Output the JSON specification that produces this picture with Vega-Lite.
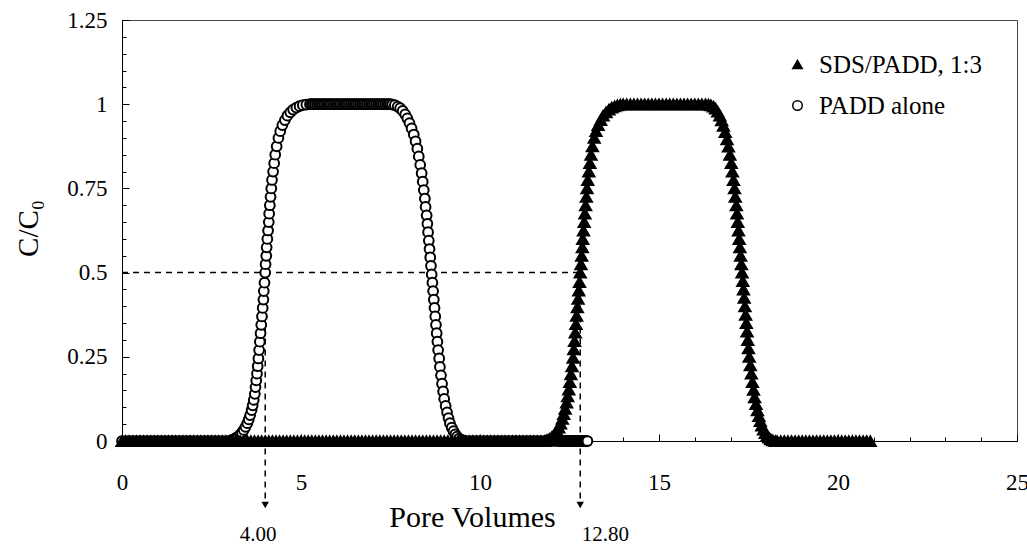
{
"$schema":"https://vega.github.io/schema/vega-lite/v6.json",
"width":895,"height":421,
"autosize":{"type":"none"},
"padding":{"left":122,"top":20,"right":10,"bottom":107},
"background":"white",
"datasets":{
"guides":[{"x":0,"y":0.5,"x2":12.8,"y2":0.5},{"x":4,"y":0.5,"x2":4,"y2":-0.185},{"x":12.8,"y":0.5,"x2":12.8,"y2":-0.185}],
"arrows":[{"x":4,"y":-0.19},{"x":12.8,"y":-0.19}],
"labels":[{"x":3.8,"y":-0.28,"t":"4.00"},{"x":13.5,"y":-0.28,"t":"12.80"}],
"padd":[
{"x":0,"y":0},{"x":0.1,"y":0},{"x":0.2,"y":0},{"x":0.3,"y":0},{"x":0.4,"y":0},{"x":0.5,"y":0},{"x":0.6,"y":0},{"x":0.7,"y":0},{"x":0.8,"y":0},{"x":0.9,"y":0},
{"x":1,"y":0},{"x":1.1,"y":0},{"x":1.2,"y":0},{"x":1.3,"y":0},{"x":1.4,"y":0},{"x":1.5,"y":0},{"x":1.6,"y":0},{"x":1.7,"y":0},{"x":1.8,"y":0},{"x":1.9,"y":0},
{"x":2,"y":0},{"x":2.1,"y":0},{"x":2.2,"y":0},{"x":2.3,"y":0},{"x":2.4,"y":0},{"x":2.5,"y":0},{"x":2.6,"y":0},{"x":2.7,"y":0},{"x":2.8,"y":0},{"x":2.9,"y":0},
{"x":3.0,"y":0},{"x":3.05,"y":0.002},{"x":3.1,"y":0.004},{"x":3.15,"y":0.007},{"x":3.2,"y":0.01},{"x":3.25,"y":0.014},{"x":3.3,"y":0.019},{"x":3.35,"y":0.025},{"x":3.4,"y":0.033},{"x":3.45,"y":0.042},
{"x":3.5,"y":0.053},{"x":3.54,"y":0.064},{"x":3.58,"y":0.077},{"x":3.62,"y":0.092},{"x":3.65,"y":0.106},{"x":3.68,"y":0.122},{"x":3.71,"y":0.14},{"x":3.73,"y":0.16},{"x":3.75,"y":0.18},{"x":3.77,"y":0.2},
{"x":3.79,"y":0.222},{"x":3.81,"y":0.245},{"x":3.83,"y":0.27},{"x":3.85,"y":0.295},{"x":3.87,"y":0.32},{"x":3.89,"y":0.345},{"x":3.91,"y":0.37},{"x":3.93,"y":0.395},{"x":3.95,"y":0.42},{"x":3.96,"y":0.445},
{"x":3.98,"y":0.47},{"x":4.0,"y":0.5},{"x":4.01,"y":0.525},{"x":4.03,"y":0.55},{"x":4.04,"y":0.575},{"x":4.06,"y":0.6},{"x":4.08,"y":0.625},{"x":4.1,"y":0.65},{"x":4.11,"y":0.675},{"x":4.13,"y":0.7},
{"x":4.15,"y":0.725},{"x":4.17,"y":0.75},{"x":4.19,"y":0.775},{"x":4.22,"y":0.8},{"x":4.25,"y":0.825},{"x":4.28,"y":0.85},{"x":4.32,"y":0.875},{"x":4.37,"y":0.9},{"x":4.42,"y":0.92},{"x":4.48,"y":0.938},
{"x":4.55,"y":0.953},{"x":4.62,"y":0.966},{"x":4.7,"y":0.976},{"x":4.78,"y":0.984},{"x":4.87,"y":0.99},{"x":4.96,"y":0.994},{"x":5.05,"y":0.997},{"x":5.15,"y":0.999},{"x":5.25,"y":1},
{"x":5.3,"y":1},{"x":5.35,"y":1},{"x":5.4,"y":1},{"x":5.45,"y":1},{"x":5.5,"y":1},{"x":5.55,"y":1},{"x":5.6,"y":1},{"x":5.65,"y":1},{"x":5.7,"y":1},{"x":5.75,"y":1},
{"x":5.8,"y":1},{"x":5.85,"y":1},{"x":5.9,"y":1},{"x":5.95,"y":1},{"x":6,"y":1},{"x":6.05,"y":1},{"x":6.1,"y":1},{"x":6.15,"y":1},{"x":6.2,"y":1},{"x":6.25,"y":1},
{"x":6.3,"y":1},{"x":6.35,"y":1},{"x":6.4,"y":1},{"x":6.45,"y":1},{"x":6.5,"y":1},{"x":6.55,"y":1},{"x":6.6,"y":1},{"x":6.65,"y":1},{"x":6.7,"y":1},{"x":6.75,"y":1},
{"x":6.8,"y":1},{"x":6.85,"y":1},{"x":6.9,"y":1},{"x":6.95,"y":1},{"x":7,"y":1},{"x":7.05,"y":1},{"x":7.1,"y":1},{"x":7.15,"y":1},{"x":7.2,"y":1},{"x":7.25,"y":1},
{"x":7.3,"y":1},{"x":7.35,"y":1},{"x":7.4,"y":1},{"x":7.45,"y":1},{"x":7.5,"y":1},
{"x":7.55,"y":0.999},{"x":7.62,"y":0.997},{"x":7.7,"y":0.993},{"x":7.77,"y":0.988},{"x":7.84,"y":0.98},{"x":7.91,"y":0.97},{"x":7.97,"y":0.958},{"x":8.03,"y":0.944},{"x":8.09,"y":0.928},{"x":8.15,"y":0.91},
{"x":8.2,"y":0.89},{"x":8.25,"y":0.868},{"x":8.29,"y":0.845},{"x":8.33,"y":0.82},{"x":8.37,"y":0.795},{"x":8.4,"y":0.77},{"x":8.43,"y":0.745},{"x":8.46,"y":0.72},{"x":8.48,"y":0.695},{"x":8.51,"y":0.67},
{"x":8.53,"y":0.645},{"x":8.55,"y":0.62},{"x":8.57,"y":0.595},{"x":8.59,"y":0.57},{"x":8.61,"y":0.545},{"x":8.63,"y":0.52},{"x":8.65,"y":0.495},{"x":8.67,"y":0.47},{"x":8.69,"y":0.445},{"x":8.71,"y":0.42},
{"x":8.73,"y":0.395},{"x":8.75,"y":0.37},{"x":8.77,"y":0.345},{"x":8.79,"y":0.32},{"x":8.81,"y":0.295},{"x":8.83,"y":0.27},{"x":8.86,"y":0.245},{"x":8.88,"y":0.22},{"x":8.91,"y":0.195},{"x":8.94,"y":0.17},
{"x":8.97,"y":0.147},{"x":9.0,"y":0.125},{"x":9.04,"y":0.104},{"x":9.08,"y":0.085},{"x":9.12,"y":0.068},{"x":9.16,"y":0.053},{"x":9.21,"y":0.04},{"x":9.26,"y":0.029},{"x":9.31,"y":0.02},{"x":9.36,"y":0.013},
{"x":9.42,"y":0.007},{"x":9.48,"y":0.003},{"x":9.55,"y":0.001},{"x":9.6,"y":0},
{"x":9.7,"y":0},{"x":9.8,"y":0},{"x":9.9,"y":0},{"x":10,"y":0},{"x":10.1,"y":0},{"x":10.2,"y":0},{"x":10.3,"y":0},{"x":10.4,"y":0},{"x":10.5,"y":0},{"x":10.6,"y":0},
{"x":10.7,"y":0},{"x":10.8,"y":0},{"x":10.9,"y":0},{"x":11,"y":0},{"x":11.1,"y":0},{"x":11.2,"y":0},{"x":11.3,"y":0},{"x":11.4,"y":0},{"x":11.5,"y":0},{"x":11.6,"y":0},{"x":11.7,"y":0},
{"x":11.8,"y":0},{"x":11.9,"y":0},{"x":12,"y":0},{"x":12.1,"y":0},{"x":12.2,"y":0},{"x":12.225,"y":0},{"x":12.25,"y":0},{"x":12.275,"y":0},{"x":12.3,"y":0},{"x":12.325,"y":0},
{"x":12.35,"y":0},{"x":12.375,"y":0},{"x":12.4,"y":0},{"x":12.425,"y":0},{"x":12.45,"y":0},{"x":12.475,"y":0},{"x":12.5,"y":0},{"x":12.525,"y":0},{"x":12.55,"y":0},{"x":12.575,"y":0},
{"x":12.6,"y":0},{"x":12.625,"y":0},{"x":12.65,"y":0},{"x":12.675,"y":0},{"x":12.7,"y":0},{"x":12.725,"y":0},{"x":12.75,"y":0},{"x":12.775,"y":0},{"x":12.8,"y":0},{"x":12.825,"y":0},
{"x":12.85,"y":0},{"x":12.875,"y":0},{"x":12.9,"y":0},{"x":12.925,"y":0},{"x":12.95,"y":0},{"x":12.975,"y":0},{"x":13.0,"y":0}
],
"sds":[
{"x":0,"y":0},{"x":0.1,"y":0},{"x":0.2,"y":0},{"x":0.3,"y":0},{"x":0.4,"y":0},{"x":0.5,"y":0},{"x":0.6,"y":0},{"x":0.7,"y":0},{"x":0.8,"y":0},{"x":0.9,"y":0},
{"x":1,"y":0},{"x":1.1,"y":0},{"x":1.2,"y":0},{"x":1.3,"y":0},{"x":1.4,"y":0},{"x":1.5,"y":0},{"x":1.6,"y":0},{"x":1.7,"y":0},{"x":1.8,"y":0},{"x":1.9,"y":0},
{"x":2,"y":0},{"x":2.1,"y":0},{"x":2.2,"y":0},{"x":2.3,"y":0},{"x":2.4,"y":0},{"x":2.5,"y":0},{"x":2.6,"y":0},{"x":2.7,"y":0},{"x":2.8,"y":0},{"x":2.9,"y":0},
{"x":3,"y":0},{"x":3.1,"y":0},{"x":3.2,"y":0},{"x":3.3,"y":0},{"x":3.4,"y":0},{"x":3.5,"y":0},{"x":3.6,"y":0},{"x":3.7,"y":0},{"x":3.8,"y":0},{"x":3.9,"y":0},
{"x":4,"y":0},{"x":4.1,"y":0},{"x":4.2,"y":0},{"x":4.3,"y":0},{"x":4.4,"y":0},{"x":4.5,"y":0},{"x":4.6,"y":0},{"x":4.7,"y":0},{"x":4.8,"y":0},{"x":4.9,"y":0},
{"x":5,"y":0},{"x":5.1,"y":0},{"x":5.2,"y":0},{"x":5.3,"y":0},{"x":5.4,"y":0},{"x":5.5,"y":0},{"x":5.6,"y":0},{"x":5.7,"y":0},{"x":5.8,"y":0},{"x":5.9,"y":0},
{"x":6,"y":0},{"x":6.1,"y":0},{"x":6.2,"y":0},{"x":6.3,"y":0},{"x":6.4,"y":0},{"x":6.5,"y":0},{"x":6.6,"y":0},{"x":6.7,"y":0},{"x":6.8,"y":0},{"x":6.9,"y":0},
{"x":7,"y":0},{"x":7.1,"y":0},{"x":7.2,"y":0},{"x":7.3,"y":0},{"x":7.4,"y":0},{"x":7.5,"y":0},{"x":7.6,"y":0},{"x":7.7,"y":0},{"x":7.8,"y":0},{"x":7.9,"y":0},
{"x":8,"y":0},{"x":8.1,"y":0},{"x":8.2,"y":0},{"x":8.3,"y":0},{"x":8.4,"y":0},{"x":8.5,"y":0},{"x":8.6,"y":0},{"x":8.7,"y":0},{"x":8.8,"y":0},{"x":8.9,"y":0},
{"x":9,"y":0},{"x":9.1,"y":0},{"x":9.2,"y":0},{"x":9.3,"y":0},{"x":9.4,"y":0},{"x":9.5,"y":0},{"x":9.6,"y":0},{"x":9.7,"y":0},{"x":9.8,"y":0},{"x":9.9,"y":0},
{"x":10,"y":0},{"x":10.1,"y":0},{"x":10.2,"y":0},{"x":10.3,"y":0},{"x":10.4,"y":0},{"x":10.5,"y":0},{"x":10.6,"y":0},{"x":10.7,"y":0},{"x":10.8,"y":0},{"x":10.9,"y":0},
{"x":11,"y":0},{"x":11.1,"y":0},{"x":11.2,"y":0},{"x":11.3,"y":0},{"x":11.4,"y":0},{"x":11.5,"y":0},{"x":11.6,"y":0},{"x":11.7,"y":0},
{"x":11.8,"y":0},{"x":11.85,"y":0.002},{"x":11.9,"y":0.004},{"x":11.95,"y":0.007},{"x":12,"y":0.011},{"x":12.05,"y":0.016},{"x":12.1,"y":0.022},{"x":12.15,"y":0.03},{"x":12.2,"y":0.04},{"x":12.25,"y":0.052},
{"x":12.3,"y":0.066},{"x":12.34,"y":0.08},{"x":12.38,"y":0.096},{"x":12.42,"y":0.114},{"x":12.45,"y":0.133},{"x":12.48,"y":0.153},{"x":12.51,"y":0.175},{"x":12.54,"y":0.198},{"x":12.57,"y":0.222},{"x":12.6,"y":0.247},
{"x":12.62,"y":0.272},{"x":12.64,"y":0.297},{"x":12.66,"y":0.322},{"x":12.68,"y":0.347},{"x":12.7,"y":0.372},{"x":12.72,"y":0.397},{"x":12.74,"y":0.422},{"x":12.76,"y":0.447},{"x":12.78,"y":0.472},{"x":12.8,"y":0.5},
{"x":12.82,"y":0.525},{"x":12.84,"y":0.55},{"x":12.86,"y":0.575},{"x":12.87,"y":0.6},{"x":12.89,"y":0.625},{"x":12.91,"y":0.65},{"x":12.93,"y":0.675},{"x":12.95,"y":0.7},{"x":12.97,"y":0.725},{"x":12.99,"y":0.75},
{"x":13.01,"y":0.775},{"x":13.04,"y":0.8},{"x":13.07,"y":0.825},{"x":13.1,"y":0.85},{"x":13.14,"y":0.875},{"x":13.19,"y":0.9},{"x":13.24,"y":0.92},{"x":13.3,"y":0.938},{"x":13.37,"y":0.953},{"x":13.44,"y":0.966},
{"x":13.52,"y":0.976},{"x":13.6,"y":0.984},{"x":13.68,"y":0.99},{"x":13.76,"y":0.994},{"x":13.84,"y":0.997},{"x":13.92,"y":0.999},
{"x":14,"y":1},{"x":14.1,"y":1},{"x":14.2,"y":1},{"x":14.3,"y":1},{"x":14.4,"y":1},{"x":14.5,"y":1},{"x":14.6,"y":1},{"x":14.7,"y":1},{"x":14.8,"y":1},{"x":14.9,"y":1},
{"x":15,"y":1},{"x":15.1,"y":1},{"x":15.2,"y":1},{"x":15.3,"y":1},{"x":15.4,"y":1},{"x":15.5,"y":1},{"x":15.6,"y":1},{"x":15.7,"y":1},{"x":15.8,"y":1},{"x":15.9,"y":1},
{"x":16,"y":1},{"x":16.1,"y":1},{"x":16.2,"y":1},{"x":16.3,"y":1},
{"x":16.38,"y":0.999},{"x":16.45,"y":0.997},{"x":16.52,"y":0.993},{"x":16.58,"y":0.987},{"x":16.64,"y":0.978},{"x":16.7,"y":0.966},{"x":16.75,"y":0.952},{"x":16.8,"y":0.936},{"x":16.85,"y":0.917},{"x":16.9,"y":0.896},
{"x":16.94,"y":0.874},{"x":16.98,"y":0.85},{"x":17.02,"y":0.825},{"x":17.05,"y":0.8},{"x":17.08,"y":0.775},{"x":17.11,"y":0.75},{"x":17.13,"y":0.725},{"x":17.16,"y":0.7},{"x":17.18,"y":0.675},{"x":17.2,"y":0.65},
{"x":17.22,"y":0.625},{"x":17.24,"y":0.6},{"x":17.26,"y":0.575},{"x":17.28,"y":0.55},{"x":17.3,"y":0.525},{"x":17.32,"y":0.5},{"x":17.34,"y":0.475},{"x":17.36,"y":0.45},{"x":17.38,"y":0.425},{"x":17.4,"y":0.4},
{"x":17.42,"y":0.375},{"x":17.44,"y":0.35},{"x":17.46,"y":0.325},{"x":17.48,"y":0.3},{"x":17.5,"y":0.275},{"x":17.52,"y":0.25},{"x":17.55,"y":0.225},{"x":17.58,"y":0.2},{"x":17.61,"y":0.175},{"x":17.64,"y":0.152},
{"x":17.67,"y":0.13},{"x":17.71,"y":0.11},{"x":17.75,"y":0.091},{"x":17.79,"y":0.074},{"x":17.83,"y":0.059},{"x":17.87,"y":0.046},{"x":17.92,"y":0.034},{"x":17.97,"y":0.024},{"x":18.02,"y":0.016},{"x":18.07,"y":0.01},
{"x":18.12,"y":0.005},{"x":18.18,"y":0.002},{"x":18.25,"y":0},
{"x":18.3,"y":0},{"x":18.4,"y":0},{"x":18.5,"y":0},{"x":18.6,"y":0},{"x":18.7,"y":0},{"x":18.8,"y":0},{"x":18.9,"y":0},{"x":19,"y":0},{"x":19.1,"y":0},{"x":19.2,"y":0},
{"x":19.3,"y":0},{"x":19.4,"y":0},{"x":19.5,"y":0},{"x":19.6,"y":0},{"x":19.7,"y":0},{"x":19.8,"y":0},{"x":19.9,"y":0},{"x":20,"y":0},{"x":20.1,"y":0},{"x":20.2,"y":0},
{"x":20.3,"y":0},{"x":20.4,"y":0},{"x":20.5,"y":0},{"x":20.6,"y":0},{"x":20.7,"y":0},{"x":20.8,"y":0},{"x":20.9,"y":0}
]
},
"encoding":{
"x":{"field":"x","type":"quantitative","scale":{"domain":[0,25],"nice":false,"zero":false},
"axis":{"title":"Pore Volumes","values":[0,1,2,3,4,5,6,7,8,9,10,11,12,13,14,15,16,17,18,19,20,21,22,23,24,25],
"labelExpr":"datum.value % 5 == 0 ? '' + datum.value : ''",
"tickSize":{"condition":{"test":"datum.value % 5 == 0","value":-7},"value":-4},
"labelPadding":37,"labelFlush":false,"labelOverlap":false,"grid":false,
"domainColor":"black","tickColor":"black","labelColor":"black","labelFont":"Liberation Serif","labelFontSize":23,
"titleFont":"Liberation Serif","titleFontSize":30,"titleFontWeight":"normal","titleColor":"black",
"titleX":350,"titleY":76,"titleBaseline":"middle","titleAlign":"center"}},
"y":{"field":"y","type":"quantitative","scale":{"domain":[0,1.25],"nice":false},
"axis":{"title":"C/C₀","values":[0,0.05,0.1,0.15,0.2,0.25,0.3,0.35,0.4,0.45,0.5,0.55,0.6,0.65,0.7,0.75,0.8,0.85,0.9,0.95,1,1.05,1.1,1.15,1.2,1.25],
"labelExpr":"abs(datum.value*4-round(datum.value*4))<0.001 ? '' + datum.value : ''",
"tickSize":{"condition":{"test":"abs(datum.value*4-round(datum.value*4))<0.001","value":-7},"value":-4},
"labelPadding":22,"labelFlush":false,"labelOverlap":false,"grid":false,
"domainColor":"black","tickColor":"black","labelColor":"black","labelFont":"Liberation Serif","labelFontSize":23,
"titleFont":"Liberation Serif","titleFontSize":29,"titleFontWeight":"normal","titleColor":"black",
"titleX":-94,"titleY":208,"titleAngle":-90,"titleBaseline":"middle","titleAlign":"center"}}
},
"layer":[
{"data":{"name":"guides"},"mark":{"type":"rule","color":"black","strokeWidth":1.5,"strokeDash":[6,5]},
 "encoding":{"x2":{"field":"x2"},"y2":{"field":"y2"}}},
{"data":{"name":"arrows"},"mark":{"type":"point","shape":"triangle-down","filled":true,"color":"black","size":55,"opacity":1},"encoding":{}},
{"data":{"name":"labels"},"mark":{"type":"text","font":"Liberation Serif","fontSize":21,"color":"black","baseline":"middle","align":"center"},
 "encoding":{"text":{"field":"t"}}},
{"data":{"name":"padd"},"mark":{"type":"point","filled":true,"strokeWidth":2,"size":95,"opacity":1},
 "encoding":{
  "shape":{"datum":"PADD alone","type":"nominal","scale":{"domain":["SDS/PADD, 1:3","PADD alone"],"range":["triangle-up","circle"]},
   "legend":{"title":null,"orient":"none","legendX":663,"legendY":32,"padding":0,"rowPadding":15,"labelOffset":9,"labelLimit":400,"labelFont":"Liberation Serif","labelFontSize":25,"labelColor":"black","symbolSize":90,"symbolStrokeWidth":1.5}},
  "fill":{"datum":"PADD alone","type":"nominal","scale":{"domain":["SDS/PADD, 1:3","PADD alone"],"range":["black","white"]},
   "legend":{"title":null,"orient":"none","legendX":663,"legendY":32,"padding":0,"rowPadding":15,"labelOffset":9,"labelLimit":400,"labelFont":"Liberation Serif","labelFontSize":25,"labelColor":"black","symbolSize":90,"symbolStrokeWidth":1.5}},
  "stroke":{"datum":"PADD alone","type":"nominal","scale":{"domain":["SDS/PADD, 1:3","PADD alone"],"range":["black","black"]},
   "legend":{"title":null,"orient":"none","legendX":663,"legendY":32,"padding":0,"rowPadding":15,"labelOffset":9,"labelLimit":400,"labelFont":"Liberation Serif","labelFontSize":25,"labelColor":"black","symbolSize":90,"symbolStrokeWidth":1.5}}}},
{"data":{"name":"sds"},"mark":{"type":"point","filled":true,"strokeWidth":1.5,"size":145,"opacity":1},
 "encoding":{
  "shape":{"datum":"SDS/PADD, 1:3","type":"nominal"},
  "fill":{"datum":"SDS/PADD, 1:3","type":"nominal"},
  "stroke":{"datum":"SDS/PADD, 1:3","type":"nominal"}}}
],
"config":{"view":{"stroke":"#444","strokeWidth":1},"font":"Liberation Serif",
"axis":{"labelFont":"Liberation Serif","titleFont":"Liberation Serif"},
"legend":{"labelFont":"Liberation Serif","labelLimit":400},
"text":{"font":"Liberation Serif"}}
}
